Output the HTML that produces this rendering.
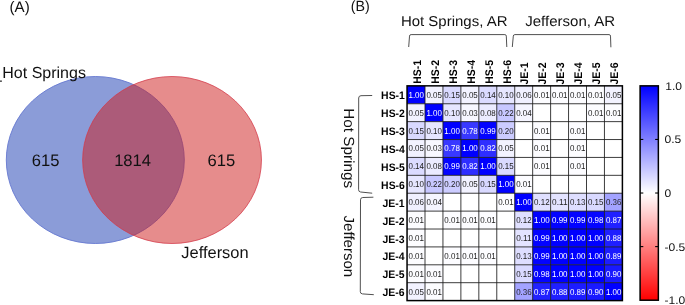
<!DOCTYPE html>
<html><head><meta charset="utf-8"><title>Figure</title>
<style>html,body{margin:0;padding:0;background:#fff;}body{width:685px;height:305px;overflow:hidden;}svg{display:block;}text{font-family:"Liberation Sans",sans-serif;text-rendering:geometricPrecision;}</style>
</head><body>
<svg width="685" height="305" viewBox="0 0 685 305">
<rect x="0" y="0" width="685" height="305" fill="#ffffff"/>
<g style="will-change:transform">
<g id="venn">
<ellipse cx="95.3" cy="160" rx="89.0" ry="83.5" fill="#8b9cd8" stroke="#6578d0" stroke-width="0.9"/>
<ellipse cx="172.05" cy="160" rx="89.4" ry="83.5" fill="#cd1919" fill-opacity="0.5" stroke="#d43848" stroke-opacity="0.85" stroke-width="0.9"/>
<rect x="0" y="80.5" width="1.9" height="1.3" fill="#333"/>
<text x="2.3" y="78.4" font-size="16.0" fill="#111">Hot Springs</text>
<text x="181.3" y="257.6" font-size="16.45" fill="#111">Jefferson</text>
<text x="45.6" y="165.5" font-size="16.6" text-anchor="middle" fill="#111">615</text>
<text x="132.6" y="165.5" font-size="16.6" text-anchor="middle" fill="#111">1814</text>
<text x="221.4" y="165.5" font-size="16.6" text-anchor="middle" fill="#111">615</text>
<text x="9.6" y="11.8" font-size="15.1" fill="#111">(A)</text>
</g>
<g id="heat">
<text x="350.8" y="11.4" font-size="14.8" fill="#111" textLength="19" lengthAdjust="spacingAndGlyphs">(B)</text>
<text x="400.9" y="26" font-size="14.3" fill="#111" textLength="106.6" lengthAdjust="spacingAndGlyphs">Hot Springs, AR</text>
<text x="525.2" y="26" font-size="14.3" fill="#111" textLength="90" lengthAdjust="spacingAndGlyphs">Jefferson, AR</text>
<path d="M408.7 47 L409.5 36.1 Q409.6 34.6 411.1 34.6 L504.9 34.6 Q506.2 34.6 506.3 36.1 L506.8 47" fill="none" stroke="#505050" stroke-width="1"/>
<path d="M512.3 47 L513.3 36.1 Q513.4 34.6 514.9 34.6 L609.1 34.6 Q610.4 34.6 610.5 36.1 L610.9 47.3" fill="none" stroke="#505050" stroke-width="1"/>
<path d="M372.2 95.5 L361.0 95.7 Q358.7 95.8 358.7 98.0 L358.6 189.8 Q358.6 191.8 360.6 192 L372.2 193.2" fill="none" stroke="#505050" stroke-width="1"/>
<path d="M373.4 197.2 L362.8 197.5 Q360.5 197.6 360.5 199.8 L360.3 291.6 Q360.3 293.7 362.4 293.9 L373.8 294.7" fill="none" stroke="#505050" stroke-width="1"/>
<text transform="translate(344.4 108.2) rotate(90)" font-size="14.6" fill="#111" textLength="80" lengthAdjust="spacingAndGlyphs">Hot Springs</text>
<text transform="translate(344.4 215.6) rotate(90)" font-size="14.6" fill="#111" textLength="61.6" lengthAdjust="spacingAndGlyphs">Jefferson</text>
<rect x="407.05" y="85.85" width="17.95" height="17.90" fill="#0000ff"/>
<rect x="425.00" y="85.85" width="17.95" height="17.90" fill="#f2f2ff"/>
<rect x="442.94" y="85.85" width="17.95" height="17.90" fill="#d9d9ff"/>
<rect x="460.89" y="85.85" width="17.95" height="17.90" fill="#f2f2ff"/>
<rect x="478.83" y="85.85" width="17.95" height="17.90" fill="#dbdbff"/>
<rect x="496.78" y="85.85" width="17.95" height="17.90" fill="#e6e6ff"/>
<rect x="514.73" y="85.85" width="17.95" height="17.90" fill="#f0f0ff"/>
<rect x="532.67" y="85.85" width="17.95" height="17.90" fill="#fcfcff"/>
<rect x="550.62" y="85.85" width="17.95" height="17.90" fill="#fcfcff"/>
<rect x="568.56" y="85.85" width="17.95" height="17.90" fill="#fcfcff"/>
<rect x="586.51" y="85.85" width="17.95" height="17.90" fill="#fcfcff"/>
<rect x="604.45" y="85.85" width="17.95" height="17.90" fill="#f2f2ff"/>
<rect x="407.05" y="103.75" width="17.95" height="17.90" fill="#f2f2ff"/>
<rect x="425.00" y="103.75" width="17.95" height="17.90" fill="#0000ff"/>
<rect x="442.94" y="103.75" width="17.95" height="17.90" fill="#e6e6ff"/>
<rect x="460.89" y="103.75" width="17.95" height="17.90" fill="#f7f7ff"/>
<rect x="478.83" y="103.75" width="17.95" height="17.90" fill="#ebebff"/>
<rect x="496.78" y="103.75" width="17.95" height="17.90" fill="#c7c7ff"/>
<rect x="514.73" y="103.75" width="17.95" height="17.90" fill="#f5f5ff"/>
<rect x="532.67" y="103.75" width="17.95" height="17.90" fill="#ffffff"/>
<rect x="550.62" y="103.75" width="17.95" height="17.90" fill="#ffffff"/>
<rect x="568.56" y="103.75" width="17.95" height="17.90" fill="#ffffff"/>
<rect x="586.51" y="103.75" width="17.95" height="17.90" fill="#fcfcff"/>
<rect x="604.45" y="103.75" width="17.95" height="17.90" fill="#fcfcff"/>
<rect x="407.05" y="121.64" width="17.95" height="17.90" fill="#d9d9ff"/>
<rect x="425.00" y="121.64" width="17.95" height="17.90" fill="#e6e6ff"/>
<rect x="442.94" y="121.64" width="17.95" height="17.90" fill="#0000ff"/>
<rect x="460.89" y="121.64" width="17.95" height="17.90" fill="#3838ff"/>
<rect x="478.83" y="121.64" width="17.95" height="17.90" fill="#0303ff"/>
<rect x="496.78" y="121.64" width="17.95" height="17.90" fill="#ccccff"/>
<rect x="514.73" y="121.64" width="17.95" height="17.90" fill="#ffffff"/>
<rect x="532.67" y="121.64" width="17.95" height="17.90" fill="#fcfcff"/>
<rect x="550.62" y="121.64" width="17.95" height="17.90" fill="#ffffff"/>
<rect x="568.56" y="121.64" width="17.95" height="17.90" fill="#fcfcff"/>
<rect x="586.51" y="121.64" width="17.95" height="17.90" fill="#ffffff"/>
<rect x="604.45" y="121.64" width="17.95" height="17.90" fill="#ffffff"/>
<rect x="407.05" y="139.54" width="17.95" height="17.90" fill="#f2f2ff"/>
<rect x="425.00" y="139.54" width="17.95" height="17.90" fill="#f7f7ff"/>
<rect x="442.94" y="139.54" width="17.95" height="17.90" fill="#3838ff"/>
<rect x="460.89" y="139.54" width="17.95" height="17.90" fill="#0000ff"/>
<rect x="478.83" y="139.54" width="17.95" height="17.90" fill="#2e2eff"/>
<rect x="496.78" y="139.54" width="17.95" height="17.90" fill="#f2f2ff"/>
<rect x="514.73" y="139.54" width="17.95" height="17.90" fill="#ffffff"/>
<rect x="532.67" y="139.54" width="17.95" height="17.90" fill="#fcfcff"/>
<rect x="550.62" y="139.54" width="17.95" height="17.90" fill="#ffffff"/>
<rect x="568.56" y="139.54" width="17.95" height="17.90" fill="#fcfcff"/>
<rect x="586.51" y="139.54" width="17.95" height="17.90" fill="#ffffff"/>
<rect x="604.45" y="139.54" width="17.95" height="17.90" fill="#ffffff"/>
<rect x="407.05" y="157.43" width="17.95" height="17.90" fill="#dbdbff"/>
<rect x="425.00" y="157.43" width="17.95" height="17.90" fill="#ebebff"/>
<rect x="442.94" y="157.43" width="17.95" height="17.90" fill="#0303ff"/>
<rect x="460.89" y="157.43" width="17.95" height="17.90" fill="#2e2eff"/>
<rect x="478.83" y="157.43" width="17.95" height="17.90" fill="#0000ff"/>
<rect x="496.78" y="157.43" width="17.95" height="17.90" fill="#d9d9ff"/>
<rect x="514.73" y="157.43" width="17.95" height="17.90" fill="#ffffff"/>
<rect x="532.67" y="157.43" width="17.95" height="17.90" fill="#fcfcff"/>
<rect x="550.62" y="157.43" width="17.95" height="17.90" fill="#ffffff"/>
<rect x="568.56" y="157.43" width="17.95" height="17.90" fill="#fcfcff"/>
<rect x="586.51" y="157.43" width="17.95" height="17.90" fill="#ffffff"/>
<rect x="604.45" y="157.43" width="17.95" height="17.90" fill="#ffffff"/>
<rect x="407.05" y="175.33" width="17.95" height="17.90" fill="#e6e6ff"/>
<rect x="425.00" y="175.33" width="17.95" height="17.90" fill="#c7c7ff"/>
<rect x="442.94" y="175.33" width="17.95" height="17.90" fill="#ccccff"/>
<rect x="460.89" y="175.33" width="17.95" height="17.90" fill="#f2f2ff"/>
<rect x="478.83" y="175.33" width="17.95" height="17.90" fill="#d9d9ff"/>
<rect x="496.78" y="175.33" width="17.95" height="17.90" fill="#0000ff"/>
<rect x="514.73" y="175.33" width="17.95" height="17.90" fill="#fcfcff"/>
<rect x="532.67" y="175.33" width="17.95" height="17.90" fill="#ffffff"/>
<rect x="550.62" y="175.33" width="17.95" height="17.90" fill="#ffffff"/>
<rect x="568.56" y="175.33" width="17.95" height="17.90" fill="#ffffff"/>
<rect x="586.51" y="175.33" width="17.95" height="17.90" fill="#ffffff"/>
<rect x="604.45" y="175.33" width="17.95" height="17.90" fill="#ffffff"/>
<rect x="407.05" y="193.23" width="17.95" height="17.90" fill="#f0f0ff"/>
<rect x="425.00" y="193.23" width="17.95" height="17.90" fill="#f5f5ff"/>
<rect x="442.94" y="193.23" width="17.95" height="17.90" fill="#ffffff"/>
<rect x="460.89" y="193.23" width="17.95" height="17.90" fill="#ffffff"/>
<rect x="478.83" y="193.23" width="17.95" height="17.90" fill="#ffffff"/>
<rect x="496.78" y="193.23" width="17.95" height="17.90" fill="#fcfcff"/>
<rect x="514.73" y="193.23" width="17.95" height="17.90" fill="#0000ff"/>
<rect x="532.67" y="193.23" width="17.95" height="17.90" fill="#e0e0ff"/>
<rect x="550.62" y="193.23" width="17.95" height="17.90" fill="#e3e3ff"/>
<rect x="568.56" y="193.23" width="17.95" height="17.90" fill="#dedeff"/>
<rect x="586.51" y="193.23" width="17.95" height="17.90" fill="#d9d9ff"/>
<rect x="604.45" y="193.23" width="17.95" height="17.90" fill="#a3a3ff"/>
<rect x="407.05" y="211.12" width="17.95" height="17.90" fill="#fcfcff"/>
<rect x="425.00" y="211.12" width="17.95" height="17.90" fill="#ffffff"/>
<rect x="442.94" y="211.12" width="17.95" height="17.90" fill="#fcfcff"/>
<rect x="460.89" y="211.12" width="17.95" height="17.90" fill="#fcfcff"/>
<rect x="478.83" y="211.12" width="17.95" height="17.90" fill="#fcfcff"/>
<rect x="496.78" y="211.12" width="17.95" height="17.90" fill="#ffffff"/>
<rect x="514.73" y="211.12" width="17.95" height="17.90" fill="#e0e0ff"/>
<rect x="532.67" y="211.12" width="17.95" height="17.90" fill="#0000ff"/>
<rect x="550.62" y="211.12" width="17.95" height="17.90" fill="#0303ff"/>
<rect x="568.56" y="211.12" width="17.95" height="17.90" fill="#0303ff"/>
<rect x="586.51" y="211.12" width="17.95" height="17.90" fill="#0505ff"/>
<rect x="604.45" y="211.12" width="17.95" height="17.90" fill="#2121ff"/>
<rect x="407.05" y="229.02" width="17.95" height="17.90" fill="#fcfcff"/>
<rect x="425.00" y="229.02" width="17.95" height="17.90" fill="#ffffff"/>
<rect x="442.94" y="229.02" width="17.95" height="17.90" fill="#ffffff"/>
<rect x="460.89" y="229.02" width="17.95" height="17.90" fill="#ffffff"/>
<rect x="478.83" y="229.02" width="17.95" height="17.90" fill="#ffffff"/>
<rect x="496.78" y="229.02" width="17.95" height="17.90" fill="#ffffff"/>
<rect x="514.73" y="229.02" width="17.95" height="17.90" fill="#e3e3ff"/>
<rect x="532.67" y="229.02" width="17.95" height="17.90" fill="#0303ff"/>
<rect x="550.62" y="229.02" width="17.95" height="17.90" fill="#0000ff"/>
<rect x="568.56" y="229.02" width="17.95" height="17.90" fill="#0000ff"/>
<rect x="586.51" y="229.02" width="17.95" height="17.90" fill="#0000ff"/>
<rect x="604.45" y="229.02" width="17.95" height="17.90" fill="#1f1fff"/>
<rect x="407.05" y="246.91" width="17.95" height="17.90" fill="#fcfcff"/>
<rect x="425.00" y="246.91" width="17.95" height="17.90" fill="#ffffff"/>
<rect x="442.94" y="246.91" width="17.95" height="17.90" fill="#fcfcff"/>
<rect x="460.89" y="246.91" width="17.95" height="17.90" fill="#fcfcff"/>
<rect x="478.83" y="246.91" width="17.95" height="17.90" fill="#fcfcff"/>
<rect x="496.78" y="246.91" width="17.95" height="17.90" fill="#ffffff"/>
<rect x="514.73" y="246.91" width="17.95" height="17.90" fill="#dedeff"/>
<rect x="532.67" y="246.91" width="17.95" height="17.90" fill="#0303ff"/>
<rect x="550.62" y="246.91" width="17.95" height="17.90" fill="#0000ff"/>
<rect x="568.56" y="246.91" width="17.95" height="17.90" fill="#0000ff"/>
<rect x="586.51" y="246.91" width="17.95" height="17.90" fill="#0000ff"/>
<rect x="604.45" y="246.91" width="17.95" height="17.90" fill="#1c1cff"/>
<rect x="407.05" y="264.81" width="17.95" height="17.90" fill="#fcfcff"/>
<rect x="425.00" y="264.81" width="17.95" height="17.90" fill="#fcfcff"/>
<rect x="442.94" y="264.81" width="17.95" height="17.90" fill="#ffffff"/>
<rect x="460.89" y="264.81" width="17.95" height="17.90" fill="#ffffff"/>
<rect x="478.83" y="264.81" width="17.95" height="17.90" fill="#ffffff"/>
<rect x="496.78" y="264.81" width="17.95" height="17.90" fill="#ffffff"/>
<rect x="514.73" y="264.81" width="17.95" height="17.90" fill="#d9d9ff"/>
<rect x="532.67" y="264.81" width="17.95" height="17.90" fill="#0505ff"/>
<rect x="550.62" y="264.81" width="17.95" height="17.90" fill="#0000ff"/>
<rect x="568.56" y="264.81" width="17.95" height="17.90" fill="#0000ff"/>
<rect x="586.51" y="264.81" width="17.95" height="17.90" fill="#0000ff"/>
<rect x="604.45" y="264.81" width="17.95" height="17.90" fill="#1919ff"/>
<rect x="407.05" y="282.70" width="17.95" height="17.90" fill="#f2f2ff"/>
<rect x="425.00" y="282.70" width="17.95" height="17.90" fill="#fcfcff"/>
<rect x="442.94" y="282.70" width="17.95" height="17.90" fill="#ffffff"/>
<rect x="460.89" y="282.70" width="17.95" height="17.90" fill="#ffffff"/>
<rect x="478.83" y="282.70" width="17.95" height="17.90" fill="#ffffff"/>
<rect x="496.78" y="282.70" width="17.95" height="17.90" fill="#ffffff"/>
<rect x="514.73" y="282.70" width="17.95" height="17.90" fill="#a3a3ff"/>
<rect x="532.67" y="282.70" width="17.95" height="17.90" fill="#2121ff"/>
<rect x="550.62" y="282.70" width="17.95" height="17.90" fill="#1f1fff"/>
<rect x="568.56" y="282.70" width="17.95" height="17.90" fill="#1c1cff"/>
<rect x="586.51" y="282.70" width="17.95" height="17.90" fill="#1919ff"/>
<rect x="604.45" y="282.70" width="17.95" height="17.90" fill="#0000ff"/>
<line x1="425.00" y1="85.85" x2="425.00" y2="300.60" stroke="#1a1a1a" stroke-width="0.85"/>
<line x1="407.05" y1="103.75" x2="622.40" y2="103.75" stroke="#1a1a1a" stroke-width="0.85"/>
<line x1="442.94" y1="85.85" x2="442.94" y2="300.60" stroke="#1a1a1a" stroke-width="0.85"/>
<line x1="407.05" y1="121.64" x2="622.40" y2="121.64" stroke="#1a1a1a" stroke-width="0.85"/>
<line x1="460.89" y1="85.85" x2="460.89" y2="300.60" stroke="#1a1a1a" stroke-width="0.85"/>
<line x1="407.05" y1="139.54" x2="622.40" y2="139.54" stroke="#1a1a1a" stroke-width="0.85"/>
<line x1="478.83" y1="85.85" x2="478.83" y2="300.60" stroke="#1a1a1a" stroke-width="0.85"/>
<line x1="407.05" y1="157.43" x2="622.40" y2="157.43" stroke="#1a1a1a" stroke-width="0.85"/>
<line x1="496.78" y1="85.85" x2="496.78" y2="300.60" stroke="#1a1a1a" stroke-width="0.85"/>
<line x1="407.05" y1="175.33" x2="622.40" y2="175.33" stroke="#1a1a1a" stroke-width="0.85"/>
<line x1="514.73" y1="85.85" x2="514.73" y2="300.60" stroke="#1a1a1a" stroke-width="0.85"/>
<line x1="407.05" y1="193.23" x2="622.40" y2="193.23" stroke="#1a1a1a" stroke-width="0.85"/>
<line x1="532.67" y1="85.85" x2="532.67" y2="300.60" stroke="#1a1a1a" stroke-width="0.85"/>
<line x1="407.05" y1="211.12" x2="622.40" y2="211.12" stroke="#1a1a1a" stroke-width="0.85"/>
<line x1="550.62" y1="85.85" x2="550.62" y2="300.60" stroke="#1a1a1a" stroke-width="0.85"/>
<line x1="407.05" y1="229.02" x2="622.40" y2="229.02" stroke="#1a1a1a" stroke-width="0.85"/>
<line x1="568.56" y1="85.85" x2="568.56" y2="300.60" stroke="#1a1a1a" stroke-width="0.85"/>
<line x1="407.05" y1="246.91" x2="622.40" y2="246.91" stroke="#1a1a1a" stroke-width="0.85"/>
<line x1="586.51" y1="85.85" x2="586.51" y2="300.60" stroke="#1a1a1a" stroke-width="0.85"/>
<line x1="407.05" y1="264.81" x2="622.40" y2="264.81" stroke="#1a1a1a" stroke-width="0.85"/>
<line x1="604.45" y1="85.85" x2="604.45" y2="300.60" stroke="#1a1a1a" stroke-width="0.85"/>
<line x1="407.05" y1="282.70" x2="622.40" y2="282.70" stroke="#1a1a1a" stroke-width="0.85"/>
<rect x="407.05" y="85.85" width="215.35" height="214.75" fill="none" stroke="#000" stroke-width="1.5"/>
<text x="416.22" y="97.80" font-size="8.6" text-anchor="middle" fill="#ffffff" textLength="15.5" lengthAdjust="spacingAndGlyphs">1.00</text>
<text x="434.17" y="97.80" font-size="8.6" text-anchor="middle" fill="#222222" textLength="15.5" lengthAdjust="spacingAndGlyphs">0.05</text>
<text x="452.11" y="97.80" font-size="8.6" text-anchor="middle" fill="#222222" textLength="15.5" lengthAdjust="spacingAndGlyphs">0.15</text>
<text x="470.06" y="97.80" font-size="8.6" text-anchor="middle" fill="#222222" textLength="15.5" lengthAdjust="spacingAndGlyphs">0.05</text>
<text x="488.01" y="97.80" font-size="8.6" text-anchor="middle" fill="#222222" textLength="15.5" lengthAdjust="spacingAndGlyphs">0.14</text>
<text x="505.95" y="97.80" font-size="8.6" text-anchor="middle" fill="#222222" textLength="15.5" lengthAdjust="spacingAndGlyphs">0.10</text>
<text x="523.90" y="97.80" font-size="8.6" text-anchor="middle" fill="#222222" textLength="15.5" lengthAdjust="spacingAndGlyphs">0.06</text>
<text x="541.84" y="97.80" font-size="8.6" text-anchor="middle" fill="#222222" textLength="15.5" lengthAdjust="spacingAndGlyphs">0.01</text>
<text x="559.79" y="97.80" font-size="8.6" text-anchor="middle" fill="#222222" textLength="15.5" lengthAdjust="spacingAndGlyphs">0.01</text>
<text x="577.74" y="97.80" font-size="8.6" text-anchor="middle" fill="#222222" textLength="15.5" lengthAdjust="spacingAndGlyphs">0.01</text>
<text x="595.68" y="97.80" font-size="8.6" text-anchor="middle" fill="#222222" textLength="15.5" lengthAdjust="spacingAndGlyphs">0.01</text>
<text x="613.63" y="97.80" font-size="8.6" text-anchor="middle" fill="#222222" textLength="15.5" lengthAdjust="spacingAndGlyphs">0.05</text>
<text x="416.22" y="115.69" font-size="8.6" text-anchor="middle" fill="#222222" textLength="15.5" lengthAdjust="spacingAndGlyphs">0.05</text>
<text x="434.17" y="115.69" font-size="8.6" text-anchor="middle" fill="#ffffff" textLength="15.5" lengthAdjust="spacingAndGlyphs">1.00</text>
<text x="452.11" y="115.69" font-size="8.6" text-anchor="middle" fill="#222222" textLength="15.5" lengthAdjust="spacingAndGlyphs">0.10</text>
<text x="470.06" y="115.69" font-size="8.6" text-anchor="middle" fill="#222222" textLength="15.5" lengthAdjust="spacingAndGlyphs">0.03</text>
<text x="488.01" y="115.69" font-size="8.6" text-anchor="middle" fill="#222222" textLength="15.5" lengthAdjust="spacingAndGlyphs">0.08</text>
<text x="505.95" y="115.69" font-size="8.6" text-anchor="middle" fill="#222222" textLength="15.5" lengthAdjust="spacingAndGlyphs">0.22</text>
<text x="523.90" y="115.69" font-size="8.6" text-anchor="middle" fill="#222222" textLength="15.5" lengthAdjust="spacingAndGlyphs">0.04</text>
<text x="595.68" y="115.69" font-size="8.6" text-anchor="middle" fill="#222222" textLength="15.5" lengthAdjust="spacingAndGlyphs">0.01</text>
<text x="613.63" y="115.69" font-size="8.6" text-anchor="middle" fill="#222222" textLength="15.5" lengthAdjust="spacingAndGlyphs">0.01</text>
<text x="416.22" y="133.59" font-size="8.6" text-anchor="middle" fill="#222222" textLength="15.5" lengthAdjust="spacingAndGlyphs">0.15</text>
<text x="434.17" y="133.59" font-size="8.6" text-anchor="middle" fill="#222222" textLength="15.5" lengthAdjust="spacingAndGlyphs">0.10</text>
<text x="452.11" y="133.59" font-size="8.6" text-anchor="middle" fill="#ffffff" textLength="15.5" lengthAdjust="spacingAndGlyphs">1.00</text>
<text x="470.06" y="133.59" font-size="8.6" text-anchor="middle" fill="#ffffff" textLength="15.5" lengthAdjust="spacingAndGlyphs">0.78</text>
<text x="488.01" y="133.59" font-size="8.6" text-anchor="middle" fill="#ffffff" textLength="15.5" lengthAdjust="spacingAndGlyphs">0.99</text>
<text x="505.95" y="133.59" font-size="8.6" text-anchor="middle" fill="#222222" textLength="15.5" lengthAdjust="spacingAndGlyphs">0.20</text>
<text x="541.84" y="133.59" font-size="8.6" text-anchor="middle" fill="#222222" textLength="15.5" lengthAdjust="spacingAndGlyphs">0.01</text>
<text x="577.74" y="133.59" font-size="8.6" text-anchor="middle" fill="#222222" textLength="15.5" lengthAdjust="spacingAndGlyphs">0.01</text>
<text x="416.22" y="151.49" font-size="8.6" text-anchor="middle" fill="#222222" textLength="15.5" lengthAdjust="spacingAndGlyphs">0.05</text>
<text x="434.17" y="151.49" font-size="8.6" text-anchor="middle" fill="#222222" textLength="15.5" lengthAdjust="spacingAndGlyphs">0.03</text>
<text x="452.11" y="151.49" font-size="8.6" text-anchor="middle" fill="#ffffff" textLength="15.5" lengthAdjust="spacingAndGlyphs">0.78</text>
<text x="470.06" y="151.49" font-size="8.6" text-anchor="middle" fill="#ffffff" textLength="15.5" lengthAdjust="spacingAndGlyphs">1.00</text>
<text x="488.01" y="151.49" font-size="8.6" text-anchor="middle" fill="#ffffff" textLength="15.5" lengthAdjust="spacingAndGlyphs">0.82</text>
<text x="505.95" y="151.49" font-size="8.6" text-anchor="middle" fill="#222222" textLength="15.5" lengthAdjust="spacingAndGlyphs">0.05</text>
<text x="541.84" y="151.49" font-size="8.6" text-anchor="middle" fill="#222222" textLength="15.5" lengthAdjust="spacingAndGlyphs">0.01</text>
<text x="577.74" y="151.49" font-size="8.6" text-anchor="middle" fill="#222222" textLength="15.5" lengthAdjust="spacingAndGlyphs">0.01</text>
<text x="416.22" y="169.38" font-size="8.6" text-anchor="middle" fill="#222222" textLength="15.5" lengthAdjust="spacingAndGlyphs">0.14</text>
<text x="434.17" y="169.38" font-size="8.6" text-anchor="middle" fill="#222222" textLength="15.5" lengthAdjust="spacingAndGlyphs">0.08</text>
<text x="452.11" y="169.38" font-size="8.6" text-anchor="middle" fill="#ffffff" textLength="15.5" lengthAdjust="spacingAndGlyphs">0.99</text>
<text x="470.06" y="169.38" font-size="8.6" text-anchor="middle" fill="#ffffff" textLength="15.5" lengthAdjust="spacingAndGlyphs">0.82</text>
<text x="488.01" y="169.38" font-size="8.6" text-anchor="middle" fill="#ffffff" textLength="15.5" lengthAdjust="spacingAndGlyphs">1.00</text>
<text x="505.95" y="169.38" font-size="8.6" text-anchor="middle" fill="#222222" textLength="15.5" lengthAdjust="spacingAndGlyphs">0.15</text>
<text x="541.84" y="169.38" font-size="8.6" text-anchor="middle" fill="#222222" textLength="15.5" lengthAdjust="spacingAndGlyphs">0.01</text>
<text x="577.74" y="169.38" font-size="8.6" text-anchor="middle" fill="#222222" textLength="15.5" lengthAdjust="spacingAndGlyphs">0.01</text>
<text x="416.22" y="187.28" font-size="8.6" text-anchor="middle" fill="#222222" textLength="15.5" lengthAdjust="spacingAndGlyphs">0.10</text>
<text x="434.17" y="187.28" font-size="8.6" text-anchor="middle" fill="#222222" textLength="15.5" lengthAdjust="spacingAndGlyphs">0.22</text>
<text x="452.11" y="187.28" font-size="8.6" text-anchor="middle" fill="#222222" textLength="15.5" lengthAdjust="spacingAndGlyphs">0.20</text>
<text x="470.06" y="187.28" font-size="8.6" text-anchor="middle" fill="#222222" textLength="15.5" lengthAdjust="spacingAndGlyphs">0.05</text>
<text x="488.01" y="187.28" font-size="8.6" text-anchor="middle" fill="#222222" textLength="15.5" lengthAdjust="spacingAndGlyphs">0.15</text>
<text x="505.95" y="187.28" font-size="8.6" text-anchor="middle" fill="#ffffff" textLength="15.5" lengthAdjust="spacingAndGlyphs">1.00</text>
<text x="523.90" y="187.28" font-size="8.6" text-anchor="middle" fill="#222222" textLength="15.5" lengthAdjust="spacingAndGlyphs">0.01</text>
<text x="416.22" y="205.17" font-size="8.6" text-anchor="middle" fill="#222222" textLength="15.5" lengthAdjust="spacingAndGlyphs">0.06</text>
<text x="434.17" y="205.17" font-size="8.6" text-anchor="middle" fill="#222222" textLength="15.5" lengthAdjust="spacingAndGlyphs">0.04</text>
<text x="505.95" y="205.17" font-size="8.6" text-anchor="middle" fill="#222222" textLength="15.5" lengthAdjust="spacingAndGlyphs">0.01</text>
<text x="523.90" y="205.17" font-size="8.6" text-anchor="middle" fill="#ffffff" textLength="15.5" lengthAdjust="spacingAndGlyphs">1.00</text>
<text x="541.84" y="205.17" font-size="8.6" text-anchor="middle" fill="#222222" textLength="15.5" lengthAdjust="spacingAndGlyphs">0.12</text>
<text x="559.79" y="205.17" font-size="8.6" text-anchor="middle" fill="#222222" textLength="15.5" lengthAdjust="spacingAndGlyphs">0.11</text>
<text x="577.74" y="205.17" font-size="8.6" text-anchor="middle" fill="#222222" textLength="15.5" lengthAdjust="spacingAndGlyphs">0.13</text>
<text x="595.68" y="205.17" font-size="8.6" text-anchor="middle" fill="#222222" textLength="15.5" lengthAdjust="spacingAndGlyphs">0.15</text>
<text x="613.63" y="205.17" font-size="8.6" text-anchor="middle" fill="#222222" textLength="15.5" lengthAdjust="spacingAndGlyphs">0.36</text>
<text x="416.22" y="223.07" font-size="8.6" text-anchor="middle" fill="#222222" textLength="15.5" lengthAdjust="spacingAndGlyphs">0.01</text>
<text x="452.11" y="223.07" font-size="8.6" text-anchor="middle" fill="#222222" textLength="15.5" lengthAdjust="spacingAndGlyphs">0.01</text>
<text x="470.06" y="223.07" font-size="8.6" text-anchor="middle" fill="#222222" textLength="15.5" lengthAdjust="spacingAndGlyphs">0.01</text>
<text x="488.01" y="223.07" font-size="8.6" text-anchor="middle" fill="#222222" textLength="15.5" lengthAdjust="spacingAndGlyphs">0.01</text>
<text x="523.90" y="223.07" font-size="8.6" text-anchor="middle" fill="#222222" textLength="15.5" lengthAdjust="spacingAndGlyphs">0.12</text>
<text x="541.84" y="223.07" font-size="8.6" text-anchor="middle" fill="#ffffff" textLength="15.5" lengthAdjust="spacingAndGlyphs">1.00</text>
<text x="559.79" y="223.07" font-size="8.6" text-anchor="middle" fill="#ffffff" textLength="15.5" lengthAdjust="spacingAndGlyphs">0.99</text>
<text x="577.74" y="223.07" font-size="8.6" text-anchor="middle" fill="#ffffff" textLength="15.5" lengthAdjust="spacingAndGlyphs">0.99</text>
<text x="595.68" y="223.07" font-size="8.6" text-anchor="middle" fill="#ffffff" textLength="15.5" lengthAdjust="spacingAndGlyphs">0.98</text>
<text x="613.63" y="223.07" font-size="8.6" text-anchor="middle" fill="#ffffff" textLength="15.5" lengthAdjust="spacingAndGlyphs">0.87</text>
<text x="416.22" y="240.96" font-size="8.6" text-anchor="middle" fill="#222222" textLength="15.5" lengthAdjust="spacingAndGlyphs">0.01</text>
<text x="523.90" y="240.96" font-size="8.6" text-anchor="middle" fill="#222222" textLength="15.5" lengthAdjust="spacingAndGlyphs">0.11</text>
<text x="541.84" y="240.96" font-size="8.6" text-anchor="middle" fill="#ffffff" textLength="15.5" lengthAdjust="spacingAndGlyphs">0.99</text>
<text x="559.79" y="240.96" font-size="8.6" text-anchor="middle" fill="#ffffff" textLength="15.5" lengthAdjust="spacingAndGlyphs">1.00</text>
<text x="577.74" y="240.96" font-size="8.6" text-anchor="middle" fill="#ffffff" textLength="15.5" lengthAdjust="spacingAndGlyphs">1.00</text>
<text x="595.68" y="240.96" font-size="8.6" text-anchor="middle" fill="#ffffff" textLength="15.5" lengthAdjust="spacingAndGlyphs">1.00</text>
<text x="613.63" y="240.96" font-size="8.6" text-anchor="middle" fill="#ffffff" textLength="15.5" lengthAdjust="spacingAndGlyphs">0.88</text>
<text x="416.22" y="258.86" font-size="8.6" text-anchor="middle" fill="#222222" textLength="15.5" lengthAdjust="spacingAndGlyphs">0.01</text>
<text x="452.11" y="258.86" font-size="8.6" text-anchor="middle" fill="#222222" textLength="15.5" lengthAdjust="spacingAndGlyphs">0.01</text>
<text x="470.06" y="258.86" font-size="8.6" text-anchor="middle" fill="#222222" textLength="15.5" lengthAdjust="spacingAndGlyphs">0.01</text>
<text x="488.01" y="258.86" font-size="8.6" text-anchor="middle" fill="#222222" textLength="15.5" lengthAdjust="spacingAndGlyphs">0.01</text>
<text x="523.90" y="258.86" font-size="8.6" text-anchor="middle" fill="#222222" textLength="15.5" lengthAdjust="spacingAndGlyphs">0.13</text>
<text x="541.84" y="258.86" font-size="8.6" text-anchor="middle" fill="#ffffff" textLength="15.5" lengthAdjust="spacingAndGlyphs">0.99</text>
<text x="559.79" y="258.86" font-size="8.6" text-anchor="middle" fill="#ffffff" textLength="15.5" lengthAdjust="spacingAndGlyphs">1.00</text>
<text x="577.74" y="258.86" font-size="8.6" text-anchor="middle" fill="#ffffff" textLength="15.5" lengthAdjust="spacingAndGlyphs">1.00</text>
<text x="595.68" y="258.86" font-size="8.6" text-anchor="middle" fill="#ffffff" textLength="15.5" lengthAdjust="spacingAndGlyphs">1.00</text>
<text x="613.63" y="258.86" font-size="8.6" text-anchor="middle" fill="#ffffff" textLength="15.5" lengthAdjust="spacingAndGlyphs">0.89</text>
<text x="416.22" y="276.76" font-size="8.6" text-anchor="middle" fill="#222222" textLength="15.5" lengthAdjust="spacingAndGlyphs">0.01</text>
<text x="434.17" y="276.76" font-size="8.6" text-anchor="middle" fill="#222222" textLength="15.5" lengthAdjust="spacingAndGlyphs">0.01</text>
<text x="523.90" y="276.76" font-size="8.6" text-anchor="middle" fill="#222222" textLength="15.5" lengthAdjust="spacingAndGlyphs">0.15</text>
<text x="541.84" y="276.76" font-size="8.6" text-anchor="middle" fill="#ffffff" textLength="15.5" lengthAdjust="spacingAndGlyphs">0.98</text>
<text x="559.79" y="276.76" font-size="8.6" text-anchor="middle" fill="#ffffff" textLength="15.5" lengthAdjust="spacingAndGlyphs">1.00</text>
<text x="577.74" y="276.76" font-size="8.6" text-anchor="middle" fill="#ffffff" textLength="15.5" lengthAdjust="spacingAndGlyphs">1.00</text>
<text x="595.68" y="276.76" font-size="8.6" text-anchor="middle" fill="#ffffff" textLength="15.5" lengthAdjust="spacingAndGlyphs">1.00</text>
<text x="613.63" y="276.76" font-size="8.6" text-anchor="middle" fill="#ffffff" textLength="15.5" lengthAdjust="spacingAndGlyphs">0.90</text>
<text x="416.22" y="294.65" font-size="8.6" text-anchor="middle" fill="#222222" textLength="15.5" lengthAdjust="spacingAndGlyphs">0.05</text>
<text x="434.17" y="294.65" font-size="8.6" text-anchor="middle" fill="#222222" textLength="15.5" lengthAdjust="spacingAndGlyphs">0.01</text>
<text x="523.90" y="294.65" font-size="8.6" text-anchor="middle" fill="#222222" textLength="15.5" lengthAdjust="spacingAndGlyphs">0.36</text>
<text x="541.84" y="294.65" font-size="8.6" text-anchor="middle" fill="#ffffff" textLength="15.5" lengthAdjust="spacingAndGlyphs">0.87</text>
<text x="559.79" y="294.65" font-size="8.6" text-anchor="middle" fill="#ffffff" textLength="15.5" lengthAdjust="spacingAndGlyphs">0.88</text>
<text x="577.74" y="294.65" font-size="8.6" text-anchor="middle" fill="#ffffff" textLength="15.5" lengthAdjust="spacingAndGlyphs">0.89</text>
<text x="595.68" y="294.65" font-size="8.6" text-anchor="middle" fill="#ffffff" textLength="15.5" lengthAdjust="spacingAndGlyphs">0.90</text>
<text x="613.63" y="294.65" font-size="8.6" text-anchor="middle" fill="#ffffff" textLength="15.5" lengthAdjust="spacingAndGlyphs">1.00</text>
<text x="404.9" y="99.35" font-size="10.8" font-weight="bold" text-anchor="end" fill="#000" textLength="23.8" lengthAdjust="spacingAndGlyphs">HS-1</text>
<text x="404.9" y="117.24" font-size="10.8" font-weight="bold" text-anchor="end" fill="#000" textLength="23.8" lengthAdjust="spacingAndGlyphs">HS-2</text>
<text x="404.9" y="135.14" font-size="10.8" font-weight="bold" text-anchor="end" fill="#000" textLength="23.8" lengthAdjust="spacingAndGlyphs">HS-3</text>
<text x="404.9" y="153.04" font-size="10.8" font-weight="bold" text-anchor="end" fill="#000" textLength="23.8" lengthAdjust="spacingAndGlyphs">HS-4</text>
<text x="404.9" y="170.93" font-size="10.8" font-weight="bold" text-anchor="end" fill="#000" textLength="23.8" lengthAdjust="spacingAndGlyphs">HS-5</text>
<text x="404.9" y="188.83" font-size="10.8" font-weight="bold" text-anchor="end" fill="#000" textLength="23.8" lengthAdjust="spacingAndGlyphs">HS-6</text>
<text x="404.5" y="206.72" font-size="10.8" font-weight="bold" text-anchor="end" fill="#000" textLength="22.1" lengthAdjust="spacingAndGlyphs">JE-1</text>
<text x="404.5" y="224.62" font-size="10.8" font-weight="bold" text-anchor="end" fill="#000" textLength="22.1" lengthAdjust="spacingAndGlyphs">JE-2</text>
<text x="404.5" y="242.51" font-size="10.8" font-weight="bold" text-anchor="end" fill="#000" textLength="22.1" lengthAdjust="spacingAndGlyphs">JE-3</text>
<text x="404.5" y="260.41" font-size="10.8" font-weight="bold" text-anchor="end" fill="#000" textLength="22.1" lengthAdjust="spacingAndGlyphs">JE-4</text>
<text x="404.5" y="278.31" font-size="10.8" font-weight="bold" text-anchor="end" fill="#000" textLength="22.1" lengthAdjust="spacingAndGlyphs">JE-5</text>
<text x="404.5" y="296.20" font-size="10.8" font-weight="bold" text-anchor="end" fill="#000" textLength="22.1" lengthAdjust="spacingAndGlyphs">JE-6</text>
<text transform="translate(420.77 83.7) rotate(-90)" font-size="11.1" font-weight="bold" fill="#000" textLength="23.9" lengthAdjust="spacingAndGlyphs">HS-1</text>
<text transform="translate(438.72 83.7) rotate(-90)" font-size="11.1" font-weight="bold" fill="#000" textLength="23.9" lengthAdjust="spacingAndGlyphs">HS-2</text>
<text transform="translate(456.66 83.7) rotate(-90)" font-size="11.1" font-weight="bold" fill="#000" textLength="23.9" lengthAdjust="spacingAndGlyphs">HS-3</text>
<text transform="translate(474.61 83.7) rotate(-90)" font-size="11.1" font-weight="bold" fill="#000" textLength="23.9" lengthAdjust="spacingAndGlyphs">HS-4</text>
<text transform="translate(492.56 83.7) rotate(-90)" font-size="11.1" font-weight="bold" fill="#000" textLength="23.9" lengthAdjust="spacingAndGlyphs">HS-5</text>
<text transform="translate(510.50 83.7) rotate(-90)" font-size="11.1" font-weight="bold" fill="#000" textLength="23.9" lengthAdjust="spacingAndGlyphs">HS-6</text>
<text transform="translate(528.45 84.5) rotate(-90)" font-size="11.1" font-weight="bold" fill="#000" textLength="22.2" lengthAdjust="spacingAndGlyphs">JE-1</text>
<text transform="translate(546.39 84.5) rotate(-90)" font-size="11.1" font-weight="bold" fill="#000" textLength="22.2" lengthAdjust="spacingAndGlyphs">JE-2</text>
<text transform="translate(564.34 84.5) rotate(-90)" font-size="11.1" font-weight="bold" fill="#000" textLength="22.2" lengthAdjust="spacingAndGlyphs">JE-3</text>
<text transform="translate(582.29 84.5) rotate(-90)" font-size="11.1" font-weight="bold" fill="#000" textLength="22.2" lengthAdjust="spacingAndGlyphs">JE-4</text>
<text transform="translate(600.23 84.5) rotate(-90)" font-size="11.1" font-weight="bold" fill="#000" textLength="22.2" lengthAdjust="spacingAndGlyphs">JE-5</text>
<text transform="translate(618.18 84.5) rotate(-90)" font-size="11.1" font-weight="bold" fill="#000" textLength="22.2" lengthAdjust="spacingAndGlyphs">JE-6</text>
<defs><linearGradient id="cb" x1="0" y1="0" x2="0" y2="1"><stop offset="0" stop-color="#0000ff"/><stop offset="0.5" stop-color="#ffffff"/><stop offset="1" stop-color="#ff0000"/></linearGradient></defs>
<rect x="640.1" y="85.85" width="18.25" height="214.35" fill="url(#cb)" stroke="#000" stroke-width="1.5"/>
<text x="665.2" y="89.80" font-size="11" fill="#111" textLength="16.8" lengthAdjust="spacingAndGlyphs">1.0</text>
<line x1="640.1" y1="139.44" x2="643.3000000000001" y2="139.44" stroke="#000" stroke-width="1.1"/>
<line x1="655.15" y1="139.44" x2="658.35" y2="139.44" stroke="#000" stroke-width="1.1"/>
<text x="664.5" y="143.39" font-size="11" fill="#111" textLength="16.8" lengthAdjust="spacingAndGlyphs">0.5</text>
<line x1="640.1" y1="193.02" x2="643.3000000000001" y2="193.02" stroke="#000" stroke-width="1.1"/>
<line x1="655.15" y1="193.02" x2="658.35" y2="193.02" stroke="#000" stroke-width="1.1"/>
<text x="664.5" y="196.97" font-size="11" fill="#111" textLength="6.7" lengthAdjust="spacingAndGlyphs">0</text>
<line x1="640.1" y1="246.61" x2="643.3000000000001" y2="246.61" stroke="#000" stroke-width="1.1"/>
<line x1="655.15" y1="246.61" x2="658.35" y2="246.61" stroke="#000" stroke-width="1.1"/>
<text x="664.5" y="250.56" font-size="11" fill="#111" textLength="20.8" lengthAdjust="spacingAndGlyphs">-0.5</text>
<text x="664.5" y="304.15" font-size="11" fill="#111" textLength="20.8" lengthAdjust="spacingAndGlyphs">-1.0</text>
</g>
</g>
</svg></body></html>
